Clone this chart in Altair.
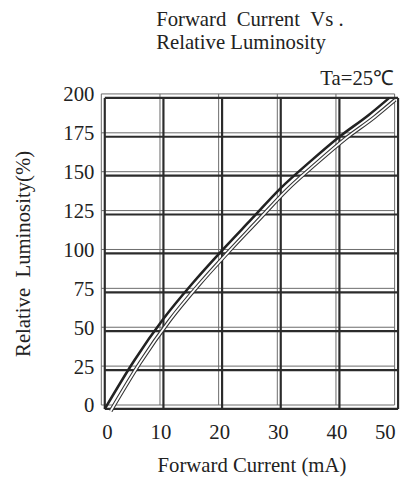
import pandas as pd
import altair as alt

# Data
current = [0, 5, 10, 15, 20, 25, 30, 35, 40, 45, 48.5]          # mA
luminosity = [0, 31, 58, 81, 102, 122, 142, 159, 175, 189, 200]  # %
x_ticks = [0, 10, 20, 30, 40, 50]
y_ticks = [0, 25, 50, 75, 100, 125, 150, 175, 200]
note = ["Ta=25\u2103"]

FONT = "Liberation Serif"
INK = "#222222"

curve_df = pd.DataFrame({"current": current, "lum": luminosity})
vgrid = pd.DataFrame({"x": x_ticks, "y0": 0, "y1": 200})
hgrid = pd.DataFrame({"y": y_ticks, "x0": 0, "x1": 50})
note_df = pd.DataFrame({"t": note, "x": [max(x_ticks)], "y": [max(y_ticks)]})

xs = alt.Scale(domain=[0, 50], nice=False, zero=False)
ys = alt.Scale(domain=[0, 200], nice=False, zero=False)

# same axis on every layer so they merge into one
x_axis = alt.Axis(values=x_ticks, title="Forward Current (mA)",
                  grid=False, domain=False, ticks=False, tickSize=0,
                  labelPadding=13, labelOffset=-3, titlePadding=12,
                  labelOverlap=False)
y_axis = alt.Axis(values=y_ticks, title="Relative\u00a0\u00a0Luminosity(%)",
                  grid=False, domain=False, ticks=False, tickSize=0,
                  labelPadding=11, labelOffset=-3, titlePadding=30,
                  labelOverlap=False)


def grid_layers(color, width, dx=0, dy=0):
    off = dict(xOffset=dx, x2Offset=dx, yOffset=dy, y2Offset=dy)
    v = alt.Chart(vgrid).mark_rule(color=color, strokeWidth=width, **off).encode(
        x=alt.X("x:Q", scale=xs, axis=x_axis),
        y=alt.Y("y0:Q", scale=ys, axis=y_axis),
        y2="y1:Q",
    )
    h = alt.Chart(hgrid).mark_rule(color=color, strokeWidth=width, **off).encode(
        y=alt.Y("y:Q", scale=ys, axis=y_axis),
        x=alt.X("x0:Q", scale=xs, axis=x_axis),
        x2="x1:Q",
    )
    return v + h


thin_grid = grid_layers("#6a6a6a", 1, dx=-3.5, dy=-4)
thick_grid = grid_layers("#2b2b2b", 2.2)


def curve_layer(color, width, dx=0, dy=0):
    return alt.Chart(curve_df).mark_line(
        color=color, strokeWidth=width, interpolate="monotone",
        xOffset=dx, yOffset=dy,
    ).encode(x=alt.X("current:Q", scale=xs, axis=x_axis),
             y=alt.Y("lum:Q", scale=ys, axis=y_axis))


# the scanned "double" trace, shifted right of the main curve
ghost_out = curve_layer("#333333", 4.0, dx=6, dy=2)
ghost_in = curve_layer("white", 1.8, dx=6, dy=2)
curve = curve_layer(INK, 2.6)

ta = alt.Chart(note_df).mark_text(
    align="right", baseline="alphabetic", dx=-4, dy=-13,
    font=FONT, fontSize=21, color=INK,
).encode(x=alt.X("x:Q", scale=xs, axis=x_axis),
         y=alt.Y("y:Q", scale=ys, axis=y_axis),
         text="t:N")

chart = (
    alt.layer(thin_grid, thick_grid, ghost_out, ghost_in, curve, ta)
    .properties(
        width=297, height=315,
        background="white",
        autosize=alt.AutoSizeParams(type="none"),
        padding={"left": 98, "top": 88, "right": 6, "bottom": 75},
        title=alt.Title(
            text=["Forward\u00a0\u00a0Current\u00a0\u00a0Vs\u00a0.", "Relative Luminosity"],
            anchor="start", frame="group", dx=52, offset=15,
            font=FONT, fontSize=21, fontWeight="normal", color=INK,
            lineHeight=23.5,
        ),
    )
    .configure_view(strokeWidth=0)
    .configure_axis(labelFont=FONT, labelFontSize=21, labelColor=INK,
                    titleFont=FONT, titleFontSize=21, titleColor=INK,
                    titleFontWeight="normal")
)

chart.save("out.html", embed_options={"renderer": "svg", "actions": False})
